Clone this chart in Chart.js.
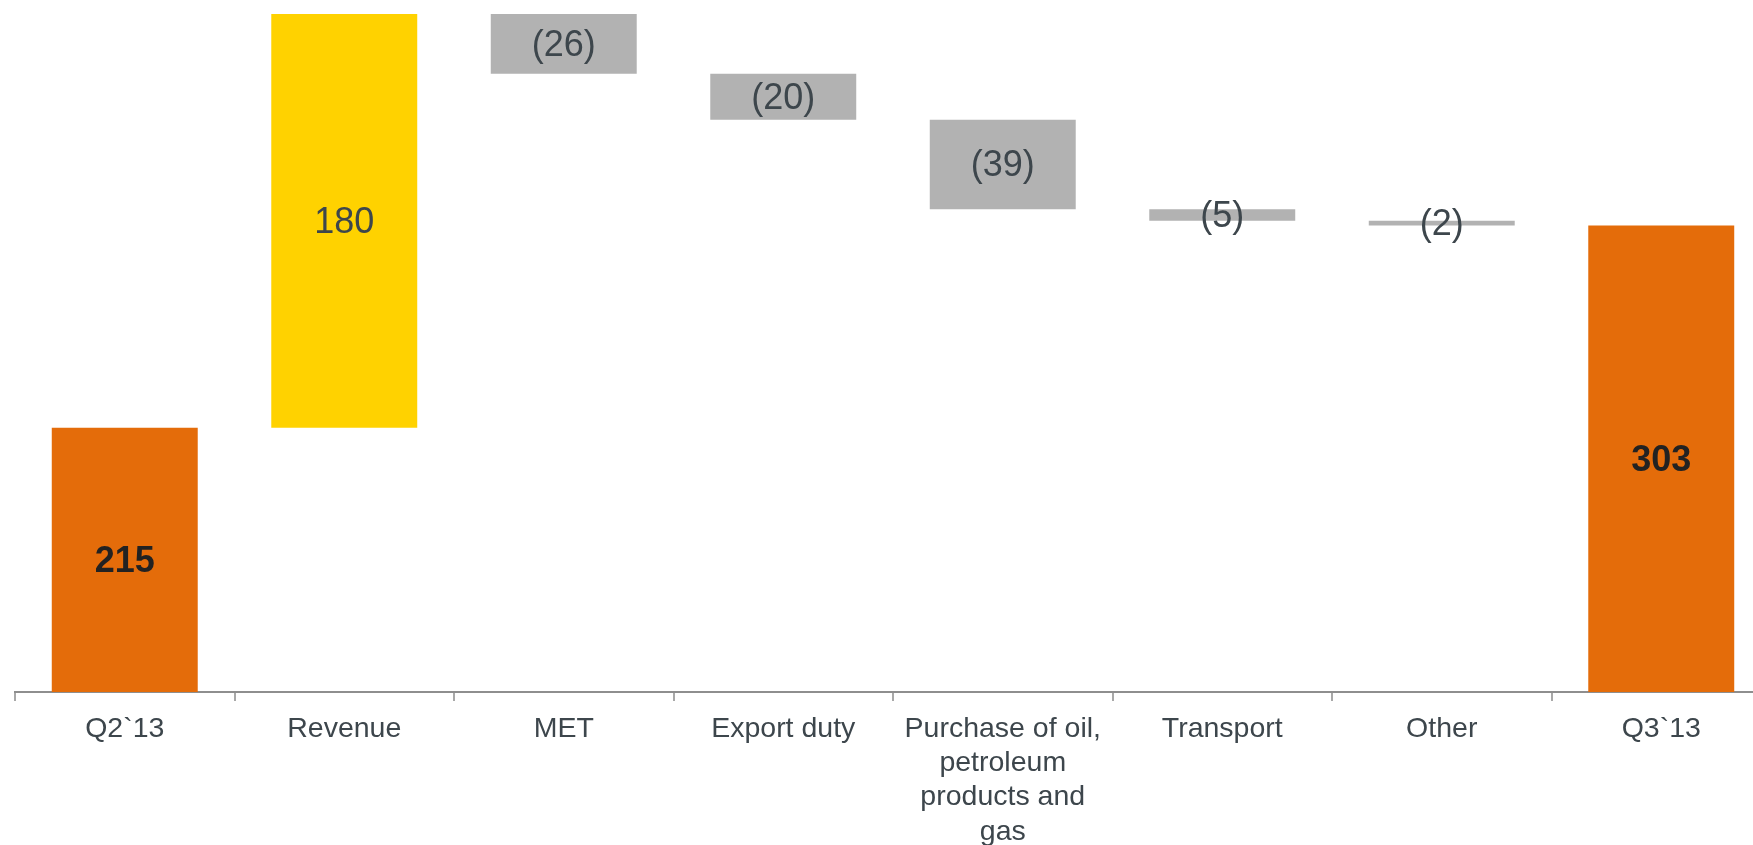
<!DOCTYPE html>
<html>
<head>
<meta charset="utf-8">
<script src="https://cdn.jsdelivr.net/npm/chart.js@4.4.1/dist/chart.umd.min.js"></script>
<style>
    html, body { margin: 0; padding: 0; background: #fff; overflow: hidden; }
    #wrap { position: relative; width: 1771px; height: 845px; }
</style>
</head>
<body>
<div id="wrap"><canvas id="bridgeChart"></canvas></div>
<script>
// Ponte Q2`13 -> Q3`13 (cascata)
const categories = ['Q2`13', 'Revenue', 'MET', 'Export duty',
    ['Purchase of oil,', 'petroleum', 'products and', 'gas'],
    'Transport', 'Other', 'Q3`13'];
const amounts = [215, 180, -26, -20, -39, -5, -2, 303];
const kinds = ['total', 'delta', 'delta', 'delta', 'delta', 'delta', 'delta', 'total'];

const Y_MIN = 100;
const Y_MAX = 395;

const colors = {
    total: '#E46C0A',
    up: '#FFD200',
    down: '#B2B2B2',
    axis: '#8E8E8E',
    tick: '#A8A8A8',
    text: '#3D464C',
    textBold: '#222222'
};

// monta as barras flutuantes [inicio, fim]
let running = 0;
const ranges = amounts.map((v, i) => {
    if (kinds[i] === 'total') {
        running = v;
        return [0, v];
    }
    const start = running;
    running += v;
    return [start, running];
});
const barColors = amounts.map((v, i) =>
    kinds[i] === 'total' ? colors.total : (v >= 0 ? colors.up : colors.down));

// rótulos de valor no centro (visível) de cada barra
const valueLabels = {
    id: 'valueLabels',
    afterDatasetsDraw(chart) {
        const ctx = chart.ctx;
        const area = chart.chartArea;
        const meta = chart.getDatasetMeta(0);
        ctx.save();
        ctx.textAlign = 'center';
        ctx.textBaseline = 'middle';
        meta.data.forEach((bar, i) => {
            const v = amounts[i];
            const isTotal = kinds[i] === 'total';
            const top = Math.max(Math.min(bar.y, bar.base), area.top);
            const bottom = Math.min(Math.max(bar.y, bar.base), area.bottom);
            const txt = v < 0 ? '(' + Math.abs(v) + ')' : String(v);
            ctx.font = (isTotal ? 'bold ' : '') + '36px "Liberation Sans", Arial, sans-serif';
            ctx.fillStyle = isTotal ? colors.textBold : colors.text;
            ctx.fillText(txt, bar.x, (top + bottom) / 2 + 2);
        });
        ctx.restore();
    }
};

new Chart(document.getElementById('bridgeChart'), {
    type: 'bar',
    data: {
        labels: categories,
        datasets: [{
            data: ranges,
            backgroundColor: barColors,
            borderWidth: 0,
            borderSkipped: false,
            barPercentage: 0.665,
            categoryPercentage: 1
        }]
    },
    options: {
        responsive: true,
        maintainAspectRatio: false,
        animation: false,
        layout: { padding: { left: 15, top: 14, right: 0, bottom: 0 } },
        plugins: {
            legend: { display: false },
            tooltip: { enabled: false }
        },
        scales: {
            y: { display: false, min: Y_MIN, max: Y_MAX },
            x: {
                afterFit(scale) { scale.height = 153; },
                grid: {
                    offset: true,
                    drawOnChartArea: false,
                    drawTicks: true,
                    tickLength: 9,
                    color: colors.tick,
                    lineWidth: 2
                },
                border: { display: true, color: colors.axis, width: 2 },
                ticks: {
                    color: colors.text,
                    padding: 11,
                    maxRotation: 0,
                    minRotation: 0,
                    autoSkip: false,
                    font: { family: '"Liberation Sans", Arial, sans-serif', size: 28.5, lineHeight: 1.2 }
                }
            }
        }
    },
    plugins: [valueLabels]
});
</script>
</body>
</html>
